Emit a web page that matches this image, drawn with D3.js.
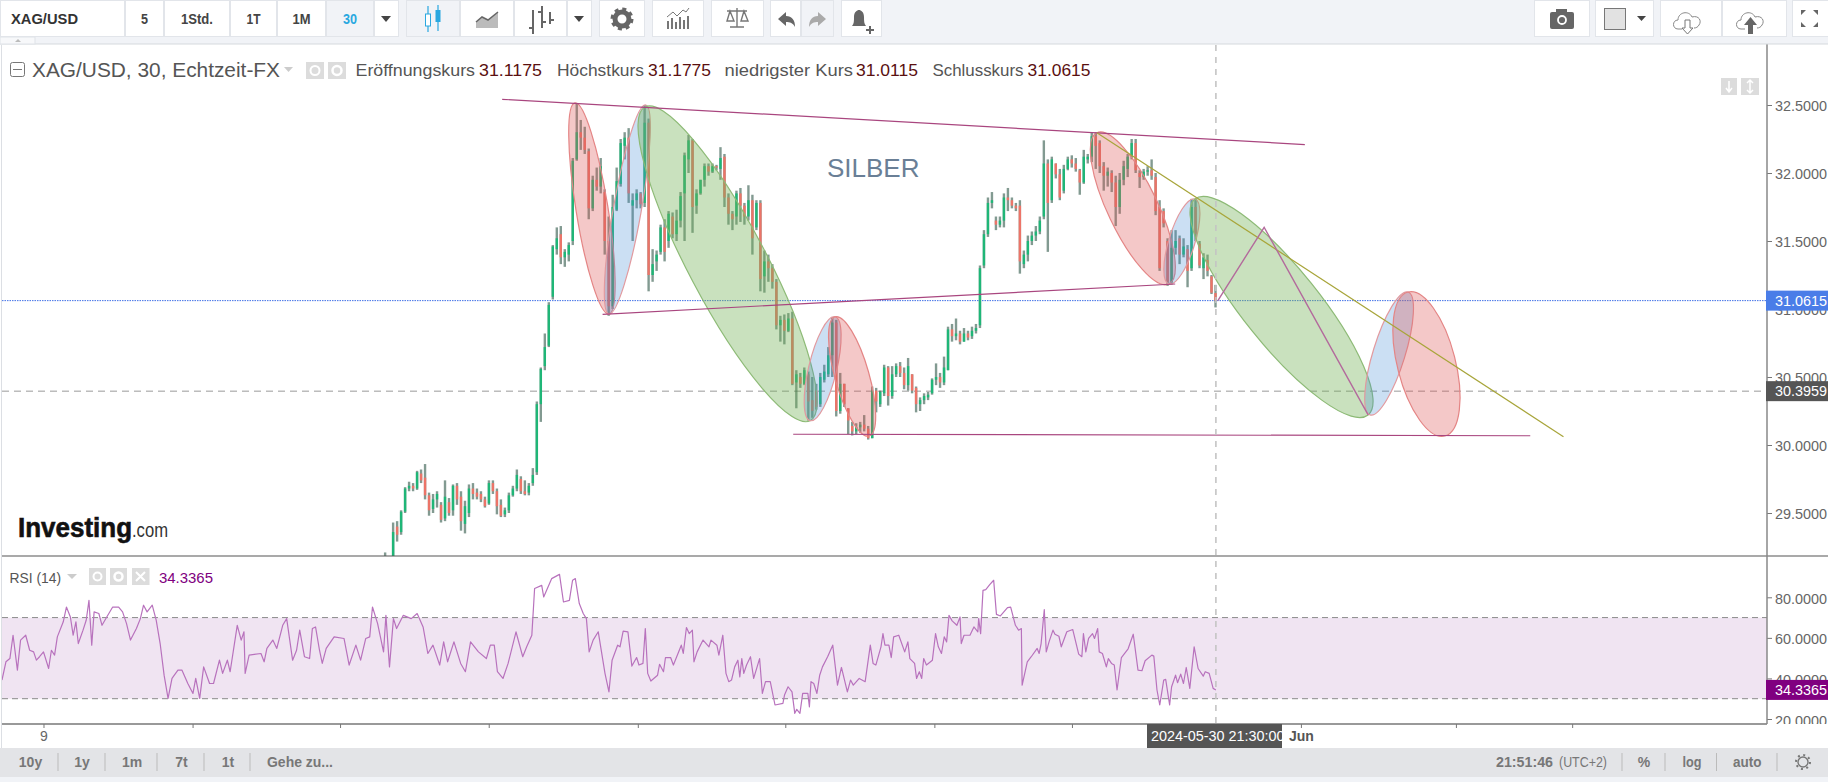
<!DOCTYPE html>
<html>
<head>
<meta charset="utf-8">
<title>XAG/USD</title>
<script src="https://cdn.jsdelivr.net/npm/d3@7"></script>
<style>
html, body { margin: 0; padding: 0; background: #fff; overflow: hidden; }
svg { display: block; }
text { font-family: "Liberation Sans", Arial, sans-serif; }
</style>
</head>
<body>
<script>
//****************************** Data ******************************************
var priceTicks = [29.5, 30, 30.5, 31, 31.5, 32, 32.5];
var rsiTicks = [20, 40, 60, 80];
var timeTicks = [110, 487, 860, 1236, 1613, 1986, 2363, 2711, 3290, 3682, 3976];
var timeLabels = ["9", "", "", "", "", "", "", "", "Jun", "", ""];

var lastPrice = 31.0615;
var prevClose = 30.3959;
var lastRsi = 34.3365;

var opens = [29.10,29.18,29.12,29.40,29.36,29.51,29.68,29.70,29.68,29.79,29.76,29.63,29.53,29.60,29.56,29.46,29.58,29.52,29.70,29.62,29.42,29.50,29.68,29.65,29.64,29.60,29.57,29.72,29.66,29.56,29.49,29.52,29.63,29.68,29.75,29.66,29.65,29.72,29.80,30.30,30.58,30.73,31.09,31.44,31.55,31.38,31.40,31.50,32.10,32.30,32.26,32.16,31.74,31.95,31.90,31.86,31.50,31.02,31.73,31.92,32.20,32.26,31.76,31.80,31.85,31.78,32.37,31.25,31.35,31.42,31.60,31.50,31.68,31.55,31.65,31.85,32.10,32.24,31.76,31.85,31.95,32.05,32.01,32.05,32.03,32.12,31.82,31.70,31.68,31.85,31.76,31.68,31.80,31.60,31.78,31.24,31.35,31.30,31.20,30.88,30.92,30.84,30.93,30.46,30.50,30.45,30.52,30.33,30.40,30.30,30.48,30.52,30.66,30.90,30.25,30.45,30.27,30.14,30.10,30.13,30.15,30.12,30.05,30.40,30.30,30.38,30.57,30.36,30.52,30.58,30.53,30.44,30.52,30.42,30.30,30.33,30.35,30.38,30.48,30.50,30.46,30.55,30.85,30.80,30.82,30.76,30.82,30.80,30.84,30.88,31.32,31.55,31.78,31.65,31.62,31.65,31.82,31.80,31.76,31.76,31.33,31.40,31.50,31.54,31.57,31.68,32.07,31.80,32.07,31.99,31.87,32.03,32.10,32.07,32.02,31.93,32.10,32.12,32.27,32.22,32.05,31.98,32.00,31.93,31.75,31.95,32.03,32.12,32.22,32.00,31.97,32.01,32.02,31.97,31.75,31.72,31.50,31.20,31.45,31.52,31.40,31.44,31.30,31.75,31.48,31.30,31.36,31.24,31.1175];
var highs = [29.21,29.18,29.43,29.44,29.52,29.69,29.73,29.72,29.81,29.82,29.86,29.65,29.64,29.66,29.58,29.74,29.61,29.71,29.72,29.66,29.59,29.71,29.72,29.68,29.66,29.62,29.74,29.74,29.68,29.60,29.54,29.65,29.70,29.82,29.77,29.74,29.72,29.83,30.32,30.57,30.82,31.05,31.47,31.60,31.61,31.44,31.49,32.11,32.51,32.39,32.34,32.18,31.98,32.04,32.11,31.88,31.68,31.84,32.04,32.25,32.30,32.33,31.85,31.88,31.86,32.50,32.40,31.44,31.43,31.62,31.66,31.72,31.71,31.73,31.86,32.15,32.28,32.25,31.88,31.95,32.07,32.07,32.07,32.06,32.19,32.14,31.85,31.72,31.87,31.89,31.78,31.91,31.84,31.80,31.80,31.43,31.40,31.33,31.22,30.95,30.96,30.97,30.98,30.55,30.53,30.57,30.54,30.50,30.45,30.53,30.59,30.72,30.94,30.92,30.53,30.45,30.27,30.17,30.16,30.17,30.22,30.14,30.43,30.42,30.40,30.59,30.58,30.58,30.60,30.61,30.57,30.64,30.52,30.43,30.35,30.38,30.39,30.49,30.60,30.53,30.65,30.87,30.89,30.93,30.84,30.86,30.84,30.87,30.89,31.32,31.58,31.82,31.86,31.68,31.68,31.85,31.89,31.82,31.78,31.80,31.43,31.54,31.57,31.61,31.68,32.24,32.10,32.12,32.07,32.03,32.06,32.12,32.13,32.11,32.03,32.17,32.14,32.30,32.30,32.24,32.08,32.04,32.02,31.98,32.00,32.09,32.14,32.25,32.25,32.02,32.03,32.05,32.10,32.00,31.80,31.74,31.52,31.58,31.58,31.54,31.52,31.47,31.81,31.81,31.50,31.41,31.40,31.25,31.1775];
var lows = [29.05,29.08,29.10,29.29,29.34,29.50,29.66,29.66,29.67,29.72,29.60,29.48,29.50,29.54,29.43,29.44,29.48,29.48,29.56,29.37,29.35,29.47,29.60,29.60,29.58,29.54,29.56,29.64,29.49,29.47,29.47,29.50,29.62,29.66,29.64,29.63,29.63,29.70,29.78,30.17,30.55,30.72,31.07,31.40,31.33,31.31,31.35,31.47,32.09,32.17,32.14,31.66,31.72,31.87,31.85,31.40,30.95,31.00,31.72,31.90,32.10,31.78,31.50,31.74,31.74,31.75,31.13,31.20,31.28,31.40,31.35,31.45,31.52,31.50,31.60,31.50,32.00,31.56,31.70,31.84,31.90,31.98,32.00,32.02,31.95,31.75,31.62,31.58,31.62,31.64,31.62,31.65,31.40,31.58,31.13,31.12,31.20,31.15,30.85,30.76,30.74,30.83,30.44,30.27,30.42,30.44,30.18,30.20,30.26,30.28,30.46,30.50,30.50,30.21,30.23,30.28,30.08,30.07,30.08,30.09,30.10,30.04,30.05,30.24,30.28,30.36,30.29,30.34,30.50,30.50,30.41,30.40,30.38,30.24,30.25,30.30,30.33,30.37,30.44,30.42,30.44,30.55,30.76,30.77,30.74,30.76,30.77,30.78,30.82,30.86,31.30,31.53,31.74,31.58,31.60,31.60,31.72,31.74,31.72,31.26,31.30,31.35,31.47,31.50,31.55,31.66,31.42,31.78,31.96,31.80,31.85,32.02,32.04,32.01,31.84,31.92,32.07,32.08,32.03,32.00,31.87,31.90,31.86,31.61,31.70,31.91,31.97,32.10,32.00,31.89,31.95,31.98,31.95,31.69,31.28,31.60,31.17,31.18,31.40,31.33,31.38,31.16,31.28,31.50,31.30,31.22,31.24,31.11,31.0115];
var closes = [29.18,29.12,29.36,29.34,29.51,29.68,29.70,29.68,29.80,29.74,29.63,29.52,29.60,29.64,29.45,29.62,29.50,29.70,29.60,29.44,29.55,29.68,29.64,29.62,29.60,29.55,29.72,29.66,29.55,29.48,29.52,29.63,29.68,29.78,29.66,29.64,29.70,29.78,30.30,30.56,30.72,31.03,31.46,31.52,31.38,31.42,31.47,32.09,32.30,32.26,32.17,31.74,31.95,31.90,32.05,31.50,31.02,31.75,31.94,32.22,32.26,31.85,31.80,31.85,31.77,32.37,31.25,31.33,31.40,31.60,31.42,31.70,31.55,31.65,31.83,32.13,32.24,31.75,31.85,31.95,32.05,32.01,32.05,32.04,32.11,31.82,31.70,31.66,31.85,31.76,31.68,31.80,31.52,31.78,31.22,31.35,31.30,31.20,30.88,30.92,30.84,30.93,30.45,30.52,30.45,30.55,30.32,30.25,30.28,30.50,30.54,30.66,30.90,30.25,30.45,30.30,30.18,30.10,30.13,30.15,30.12,30.05,30.40,30.32,30.39,30.57,30.36,30.52,30.58,30.53,30.44,30.58,30.40,30.30,30.33,30.36,30.37,30.48,30.50,30.46,30.57,30.85,30.80,30.82,30.76,30.82,30.79,30.84,30.86,31.30,31.55,31.78,31.80,31.62,31.65,31.82,31.80,31.76,31.74,31.35,31.40,31.50,31.54,31.57,31.65,32.07,31.78,32.10,31.99,31.82,32.03,32.10,32.07,32.03,31.93,32.12,32.12,32.27,32.20,32.05,31.98,32.01,31.93,31.75,31.95,32.05,32.12,32.22,32.02,31.97,32.01,32.02,31.98,31.72,31.30,31.63,31.20,31.45,31.50,31.40,31.46,31.28,31.75,31.55,31.32,31.38,31.28,31.12,31.0615];

var rsiPos = [5,15,25,33,44,52,65,75,85,92,100,110,123,130,138,145,160,168,178,185,192,198,210,218,225,232,238,250,258,270,285,300,310,320,330,345,355,363,372,385,395,405,415,425,435,450,460,475,488,495,505,515,530,540,555,563,575,582,600,610,617,620,630,660,668,675,690,700,715,725,740,750,758,770,783,790,798,808,815,825,845,870,883,900,912,925,935,942,955,970,976,985,995,1003,1020,1040,1055,1070,1082,1095,1112,1122,1132,1148,1165,1177,1190,1210,1230,1240,1250,1258,1272,1285,1305,1322,1332,1345,1352,1370,1375,1395,1415,1425,1440,1448,1455,1465,1475,1483,1490,1500,1513,1530,1540,1548,1562,
1568,1576,1588,1598,1610,1616,1626,1632,1638,1646,1663,1668,1678,1683,1696,1703,1723,1728,1736,1743,1751,1755,1763,1778,1793,1798,1813,1818,1828,1836,1843,1850,1858,1866,1871,1876,1881,1888,1898,1906,1921,1928,1936,1948,1960,1980,1984,1993,2003,2010,2015,2023,2030,2043,2047,2051,2058,2066,2073,2080,2093,2106,2118,2128,2143,2151,2158,2173,2188,2201,2208,2215,2228,2233,2238,2248,2254,2260,2273,2288,2296,2301,2313,2318,2325,2331,2336,2343,2358,2366,2373,2381,2388,2394,2400,2408,2420,2428,2431,2438,2453,2463,2473,2475,2480,2486,2493,2503,2513,2520,2530,2548,2556,2568,2576,2583,2585,2598,2608,2623,2628,2633,2641,2646,2653,2663,2668,2678,2684,2698,2713,2728,2736,2740,2746,2753,2763,2768,2776,2780,2788,2798,2803,2811,2818,2825,2836,2853,2866,2878,2888,2896,2913,2918,2926,2933,2943,2948,2958,2963,2973,2978,2986,2993,3000,3009,3020,3030,3043,3048,3058,3068,3075];
var rsiVal = [39.2,48.2,49.8,61.3,44.1,58.9,61.3,53.9,53.1,49,50.7,53.1,44.9,53.9,51.5,60.5,67.9,75.2,70.3,61.3,67.9,57.2,63.8,68.7,78.5,56.4,72.8,72,66.2,70.3,75.2,75.2,72.8,67,58.9,64.6,69.5,76.1,72.8,76.1,68.7,57.2,41.6,30.2,40,44.1,44.1,37.5,32.6,40,30.2,45.7,37.5,37.5,49,42.5,49,43.3,66.2,58.9,63,42.5,51.5,52.3,48.2,54.8,58.9,54.8,66.2,69.5,49,53.9,63.8,50.7,49.8,64.6,65.4,53.9,47.4,54.8,60.5,59.7,46.6,56.4,49,59.7,60.5,75.2,67,53.1,71.1,45.7,69.5,64.6,71.1,69.5,72,65.4,52.3,56.4,46.6,58,48.2,58,47.4,43.3,58,53.1,49.8,56.4,56.4,43.3,40,47.4,63,50.7,55.6,61.3,84.3,85.9,80.2,89.2,91.3,77.7,78.5,88.4,89.2,76.9,72,69.5,53.1,58.9,63,42.5,33.4,49,56.4,
55.6,63.3,63,46.1,50.3,46.6,47.4,64.6,42.5,38.7,41.6,47,43.3,50.3,50.3,46.6,56.4,52.3,65.1,62.1,63.8,48.2,53.1,58.9,55.6,58.9,56.4,51.5,61.3,42.5,38.4,39.2,45.7,49,40.8,49.8,42.5,46.6,50.7,40,49.8,32.6,38.4,38.4,26.9,27.7,31.8,35.9,33.4,22.8,24.8,22.8,32.6,32.6,26,38.4,37.5,32.6,41.6,45.7,50.7,56.4,36.7,45.4,33.4,39.2,36.7,40,38.4,56.4,47.4,46.6,55.6,62.1,56.4,56.4,50.3,60.5,61.3,53.1,58,49.8,47.4,40,43.3,40,49.8,46.6,49,62.1,55.6,52.3,60.5,58,71.1,68.4,66.2,70.3,57.2,61.3,61.3,65.4,63,69.5,62.1,83.4,83.8,86.2,88.4,71.6,70.8,74.9,75.2,66.2,63.8,64.6,36.7,48.2,50.7,54.8,52.3,57.2,73.9,53.1,58,63.8,61.8,60.8,55.6,63,64.1,52,50.7,62.1,53.1,59.7,62.1,59.7,64.6,53.1,52.3,45.7,49.8,47.4,46.6,34.3,50.3,54.6,61.8,44.1,43.8,48.7,51.5,51,34.3,26.9,39.2,39.5,26.9,35.9,41.6,37.9,42.1,37.5,45.4,35.1,55.6,44.9,41.1,43.3,42.5,35.1,34.3365];

// drawings on the chart: [time slot, price]
var ellipseFrom = [[1454,32.515],[1633,32.50],[1631,32.485],[2112,30.943],[2112,30.943],[2774,32.296],[3022,31.809],[3022,31.809],[3561,31.125],[3561,31.125]];
var ellipseTo = [[1540,30.963],[1540,30.963],[2049,30.179],[2049,30.179],[2198,30.066],[2956,31.184],[2956,31.184],[3460,30.221],[3465,30.221],[3654,30.066]];
var ellipseKind = ["red","blue","green","blue","red","red","blue","green","blue","red"];
var ellipseHalf = [16,14,39,14,17,25,13,38,16,29];

var purpleLines = [
  [[1270,32.542],[3300,32.209]],
  [[1524,30.961],[2972,31.184]],
  [[2006,30.079],[3870,30.068]]
];
var oliveLine = [[2774,32.296],[3954,30.061]];
var zigzag = [[3080,31.0615],[3197,31.601],[3460,30.221]];

var zoomButtons = [["10y",30.5],["1y",82],["1m",132],["7t",181.5],["1t",228]];

//****************************** Scales ****************************************
var width = 1828, height = 782;
var axisX = 1767, leftX = 2;

var xSlot = d3.scaleLinear().domain([0, 4623]).range([0, width]);
var xBar = d3.scaleLinear().domain([0, opens.length - 1]).range([xSlot(974), xSlot(3074)]);
var yPrice = d3.scaleLinear().domain([30, 32.5]).range([445, 105]);
var yRsi = d3.scaleLinear().domain([20, 80]).range([719, 597.3]);

var svg = d3.select("body").append("svg")
  .attr("width", width)
  .attr("height", height);

var defs = svg.append("defs");
defs.append("clipPath").attr("id", "mainClip").append("rect")
  .attr("x", leftX).attr("y", 45).attr("width", axisX - leftX).attr("height", 511);
defs.append("clipPath").attr("id", "rsiClip").append("rect")
  .attr("x", leftX).attr("y", 557).attr("width", axisX - leftX).attr("height", 167);
defs.append("clipPath").attr("id", "rsiAxisClip").append("rect")
  .attr("x", axisX).attr("y", 557).attr("width", 61).attr("height", 167);
defs.append("clipPath").attr("id", "badgeClip").append("rect")
  .attr("x", 1147).attr("y", 724).attr("width", 135).attr("height", 24);

function label(parent, txt, x, y, size, color, bold, anchor, len) {
  var t = parent.append("text")
    .attr("x", x).attr("y", y)
    .attr("font-size", size + "px")
    .attr("fill", color)
    .attr("text-anchor", anchor || "start")
    .attr("font-weight", bold ? "bold" : "normal")
    .text(txt);
  if (len) t.attr("textLength", len).attr("lengthAdjust", "spacingAndGlyphs");
  return t;
}

//****************************** Main chart ************************************
var main = svg.append("g").attr("clip-path", "url(#mainClip)");

// last price and previous close lines
main.append("line")
  .attr("x1", leftX).attr("x2", axisX)
  .attr("y1", yPrice(prevClose)).attr("y2", yPrice(prevClose))
  .attr("stroke", "#999").attr("stroke-dasharray", "7,5");
main.append("line")
  .attr("x1", leftX).attr("x2", axisX)
  .attr("y1", yPrice(lastPrice)).attr("y2", yPrice(lastPrice))
  .attr("stroke", "#3f6fe6").attr("stroke-dasharray", "1.5,1");

// candles
var barIdx = d3.range(opens.length);
main.selectAll(".wick").data(barIdx).enter().append("line")
  .attr("class", "wick")
  .attr("x1", function (i) { return xBar(i); })
  .attr("x2", function (i) { return xBar(i); })
  .attr("y1", function (i) { return yPrice(highs[i]); })
  .attr("y2", function (i) { return yPrice(lows[i]); })
  .attr("stroke", "#2f5647")
  .attr("stroke-opacity", 0.6)
  .attr("stroke-width", 2.4);
main.selectAll(".body").data(barIdx).enter().append("rect")
  .attr("class", "body")
  .attr("x", function (i) { return xBar(i) - 1.2; })
  .attr("width", 2.4)
  .attr("y", function (i) { return yPrice(Math.max(opens[i], closes[i])); })
  .attr("height", function (i) { return Math.max(1, Math.abs(yPrice(opens[i]) - yPrice(closes[i]))); })
  .attr("fill", function (i) { return closes[i] >= opens[i] ? "#1fb677" : "#ec7468"; });

// drawn ellipses
var ellipseFill = { red: "rgba(222,84,84,0.32)", blue: "rgba(70,140,212,0.28)", green: "rgba(112,176,84,0.38)" };
var ellipseEdge = { red: "#e48585", blue: "#e29a9f", green: "#8dba76" };
main.selectAll(".shape").data(ellipseKind).enter().append("ellipse")
  .attr("class", "shape")
  .each(function (kind, i) {
    var ax = xSlot(ellipseFrom[i][0]), ay = yPrice(ellipseFrom[i][1]);
    var bx = xSlot(ellipseTo[i][0]), by = yPrice(ellipseTo[i][1]);
    var len = Math.sqrt((bx - ax) * (bx - ax) + (by - ay) * (by - ay));
    var deg = Math.atan2(by - ay, bx - ax) * 180 / Math.PI;
    d3.select(this)
      .attr("cx", 0).attr("cy", 0)
      .attr("rx", len / 2).attr("ry", ellipseHalf[i])
      .attr("transform", "translate(" + (ax + bx) / 2 + "," + (ay + by) / 2 + ") rotate(" + deg + ")");
  })
  .attr("fill", function (k) { return ellipseFill[k]; })
  .attr("stroke", function (k) { return ellipseEdge[k]; })
  .attr("stroke-width", 1.2);

// drawn lines
var drawLine = d3.line()
  .x(function (d) { return xSlot(d[0]); })
  .y(function (d) { return yPrice(d[1]); });
main.selectAll(".trend").data(purpleLines).enter().append("path")
  .attr("class", "trend")
  .attr("d", drawLine)
  .attr("fill", "none").attr("stroke", "#a9467f").attr("stroke-width", 1.2);
main.append("path").attr("d", drawLine(oliveLine))
  .attr("fill", "none").attr("stroke", "#a8a53a").attr("stroke-width", 1.2);
main.append("path").attr("d", drawLine(zigzag))
  .attr("fill", "none").attr("stroke", "#b36a9c").attr("stroke-width", 1.4);

label(svg, "SILBER", 827, 177, 26, "#6a7f96");

// logo
var logo = label(svg, "Investing", 18, 537, 27, "#111", true, "start", 114);
logo.attr("stroke", "#111").attr("stroke-width", 0.6);
label(svg, ".com", 132, 537, 20, "#333", false, "start", 36);

//****************************** RSI *******************************************
var rsiPane = svg.append("g").attr("clip-path", "url(#rsiClip)");
rsiPane.append("rect")
  .attr("x", leftX).attr("width", axisX - leftX)
  .attr("y", yRsi(70)).attr("height", yRsi(30) - yRsi(70))
  .attr("fill", "#f0e4f2");
[70, 30].forEach(function (lvl) {
  rsiPane.append("line")
    .attr("x1", leftX).attr("x2", axisX)
    .attr("y1", yRsi(lvl)).attr("y2", yRsi(lvl))
    .attr("stroke", "#8a8a8a").attr("stroke-dasharray", "6,4");
});
var rsiLine = d3.line()
  .x(function (d, i) { return xSlot(rsiPos[i]); })
  .y(function (d) { return yRsi(d); });
rsiPane.append("path").attr("d", rsiLine(rsiVal))
  .attr("fill", "none").attr("stroke", "#b872bd").attr("stroke-width", 1.2).attr("stroke-linejoin", "round");

//****************************** Axes ******************************************
var priceAxis = d3.axisRight(yPrice)
  .tickValues(priceTicks).tickSize(5).tickPadding(3)
  .tickFormat(d3.format(".4f"));
var priceG = svg.append("g").attr("transform", "translate(" + axisX + ",0)").call(priceAxis);

var rsiAxis = d3.axisRight(yRsi)
  .tickValues(rsiTicks).tickSize(5).tickPadding(3)
  .tickFormat(d3.format(".4f"));
var rsiG = svg.append("g")
  .attr("clip-path", "url(#rsiAxisClip)")
  .append("g").attr("transform", "translate(" + axisX + ",0)").call(rsiAxis);

var timeAxis = d3.axisBottom(xSlot)
  .tickValues(timeTicks).tickSize(4).tickPadding(3)
  .tickFormat(function (d, i) { return timeLabels[i]; });
var timeG = svg.append("g").attr("transform", "translate(0,724)").call(timeAxis);

[priceG, rsiG, timeG].forEach(function (g) {
  g.select(".domain").remove();
  g.selectAll(".tick line").attr("stroke", "#777");
  g.selectAll(".tick text")
    .attr("font-family", "Liberation Sans, Arial, sans-serif")
    .attr("font-size", "14.4px")
    .attr("fill", "#666");
});
priceG.selectAll(".tick text").attr("dy", "0.4em");
rsiG.selectAll(".tick text").attr("dy", "0.42em");
timeG.selectAll(".tick text")
  .attr("font-size", "14px")
  .attr("font-weight", function (d, i) { return timeLabels[i] === "Jun" ? "bold" : "normal"; })
  .attr("fill", function (d, i) { return timeLabels[i] === "Jun" ? "#555" : "#666"; });

// pane frame
svg.append("line").attr("x1", 1.5).attr("x2", 1.5).attr("y1", 45).attr("y2", 748).attr("stroke", "#dcdfe4");
svg.append("line").attr("x1", leftX).attr("x2", width).attr("y1", 556).attr("y2", 556).attr("stroke", "#555").attr("stroke-width", 1.2);
svg.append("line").attr("x1", leftX).attr("x2", axisX).attr("y1", 724).attr("y2", 724).attr("stroke", "#777").attr("stroke-width", 1.4);
svg.append("line").attr("x1", axisX).attr("x2", axisX).attr("y1", 44).attr("y2", 724).attr("stroke", "#888").attr("stroke-width", 1.5);

// crosshair
svg.append("line")
  .attr("x1", xSlot(3075)).attr("x2", xSlot(3075))
  .attr("y1", 45).attr("y2", 728)
  .attr("stroke", "#c4c4c4").attr("stroke-width", 1.6).attr("stroke-dasharray", "6,6");

// price badges
function badge(y, txt, fill) {
  svg.append("rect")
    .attr("x", axisX - 1).attr("y", y - 10).attr("width", width - axisX + 1).attr("height", 20)
    .attr("fill", fill);
  label(svg, txt, 1775, y + 5.3, 14.4, "#fff");
}
badge(yPrice(lastPrice), d3.format(".4f")(lastPrice), "#4a7de8");
badge(yPrice(prevClose), d3.format(".4f")(prevClose), "#555555");
badge(yRsi(lastRsi), d3.format(".4f")(lastRsi), "#800080");

// crosshair date
svg.append("rect").attr("x", 1147).attr("y", 724).attr("width", 135).attr("height", 24).attr("fill", "#555");
label(svg.append("g").attr("clip-path", "url(#badgeClip)"), "2024-05-30 21:30:00", 1151, 741, 14.4, "#fff");

//****************************** Header texts **********************************
svg.append("rect").attr("x", 10.5).attr("y", 62.5).attr("width", 14).attr("height", 14).attr("rx", 2).attr("fill", "#fff").attr("stroke", "#777");
svg.append("line").attr("x1", 13).attr("x2", 22).attr("y1", 69.5).attr("y2", 69.5).attr("stroke", "#777");
label(svg, "XAG/USD, 30, Echtzeit-FX", 32, 76.5, 20.5, "#555", false, "start", 248);
svg.append("path").attr("d", "M284,67h9l-4.5,5z").attr("fill", "#ccc");

function greyBox(x, y, w, h) {
  svg.append("rect").attr("x", x).attr("y", y).attr("width", w).attr("height", h).attr("fill", "#dcdcdc");
}
greyBox(306, 62, 18, 17);
svg.append("circle").attr("cx", 315).attr("cy", 70.5).attr("r", 4.5).attr("fill", "none").attr("stroke", "#fff").attr("stroke-width", 2);
greyBox(328, 62, 18, 17);
svg.append("circle").attr("cx", 337).attr("cy", 70.5).attr("r", 4.5).attr("fill", "none").attr("stroke", "#fff").attr("stroke-width", 2.5);

var legendLabels = [["Eröffnungskurs", 355.5, 119.5], ["Höchstkurs", 557, 87], ["niedrigster Kurs", 724.5, 128.5], ["Schlusskurs", 932.5, 91]];
var legendValues = [["31.1175", 479, 63], ["31.1775", 648, 63], ["31.0115", 856, 62], ["31.0615", 1027.5, 63]];
legendLabels.forEach(function (d) { label(svg, d[0], d[1], 76, 16.5, "#555", false, "start", d[2]); });
legendValues.forEach(function (d) { label(svg, d[0], d[1], 76, 16.5, "#5a1010", false, "start", d[2]); });

greyBox(1721, 78, 16, 17);
svg.append("path").attr("d", "M1729,81v10m-3,-3l3,4l3,-4").attr("fill", "none").attr("stroke", "#fff").attr("stroke-width", 1.5);
greyBox(1741, 78, 18, 17);
svg.append("path").attr("d", "M1750,80v13m-3,-10l3,-3l3,3m-6,7l3,3l3,-3").attr("fill", "none").attr("stroke", "#fff").attr("stroke-width", 1.5);

// RSI header
label(svg, "RSI (14)", 9.5, 582.5, 15, "#555", false, "start", 51.5);
svg.append("path").attr("d", "M67,574h10l-5,5z").attr("fill", "#ccc");
greyBox(89, 568, 17, 17);
svg.append("circle").attr("cx", 97.5).attr("cy", 576.5).attr("r", 4).attr("fill", "none").attr("stroke", "#fff").attr("stroke-width", 2);
greyBox(110, 568, 17, 17);
svg.append("circle").attr("cx", 118.5).attr("cy", 576.5).attr("r", 4).attr("fill", "none").attr("stroke", "#fff").attr("stroke-width", 2.5);
greyBox(132, 568, 17.5, 17);
svg.append("path").attr("d", "M136,572l9,9m0,-9l-9,9").attr("stroke", "#fff").attr("stroke-width", 2);
label(svg, d3.format(".4f")(lastRsi), 159, 582.5, 15, "#800080", false, "start", 54);

//****************************** Toolbar ***************************************
svg.append("rect").attr("width", width).attr("height", 44).attr("fill", "#f1f3f7");
svg.append("line").attr("x1", 0).attr("x2", width).attr("y1", 44).attr("y2", 44).attr("stroke", "#d5d9de").attr("stroke-width", 1.2);
svg.append("rect").attr("x", 0).attr("y", 37).attr("width", 35).attr("height", 7).attr("fill", "#f7f8fa").attr("stroke", "#dfe3e8");
svg.append("path").attr("d", "M15,42h6l-3,-3z").attr("fill", "#bbb");

function cell(x0, x1, fill) {
  svg.append("rect")
    .attr("x", x0 + 0.5).attr("y", 0.5).attr("width", x1 - x0 - 1).attr("height", 36)
    .attr("fill", fill || "#fff").attr("stroke", "#e2e5ea");
}
var tfCells = [[125, 164, "5", 7], [164, 230, "1Std.", 32], [230, 277, "1T", 14], [277, 326, "1M", 18]];
cell(0, 125);
label(svg, "XAG/USD", 11, 24, 15, "#333", true, "start", 67);
tfCells.forEach(function (c) {
  cell(c[0], c[1]);
  label(svg, c[2], (c[0] + c[1]) / 2, 24, 15, "#444", true, "middle", c[3]);
});
cell(326, 374, "#f1f3f7");
label(svg, "30", 350, 24, 15, "#2aa8e0", true, "middle", 14);
cell(374, 399);
svg.append("path").attr("d", "M381,16h10l-5,6z").attr("fill", "#444");

cell(406, 460, "#f1f3f7");
svg.append("path").attr("d", "M428,6v26M438,5v26").attr("stroke", "#2aa8e0").attr("stroke-width", 1.2);
svg.append("rect").attr("x", 425.5).attr("y", 14).attr("width", 5).attr("height", 12).attr("fill", "#fff").attr("stroke", "#2aa8e0");
svg.append("rect").attr("x", 435.5).attr("y", 10).attr("width", 5).attr("height", 12).attr("fill", "#2aa8e0");
cell(460, 514);
svg.append("path").attr("d", "M476,28v-6l6,-5l6,3l10,-8v16z").attr("fill", "#bbb");
svg.append("path").attr("d", "M476,22l6,-5l6,3l10,-8").attr("fill", "none").attr("stroke", "#666").attr("stroke-width", 1.5);
cell(514, 567);
svg.append("path").attr("d", "M533,10v24M533,28h-4M542,6v22M542,12h-4M542,22h4M550,12v12M550,20h4").attr("fill", "none").attr("stroke", "#666").attr("stroke-width", 2);
cell(567, 592);
svg.append("path").attr("d", "M574,16h10l-5,6z").attr("fill", "#444");

cell(599, 645);
svg.append("circle").attr("cx", 622).attr("cy", 19).attr("r", 7).attr("fill", "none").attr("stroke", "#666").attr("stroke-width", 5);
svg.append("circle").attr("cx", 622).attr("cy", 19).attr("r", 10).attr("fill", "none").attr("stroke", "#666").attr("stroke-width", 3).attr("stroke-dasharray", "4,3.85");
cell(652, 704);
svg.append("path").attr("d", "M668,29v-8M672,29v-11M676,29v-7M680,29v-12M684,29v-9M688,29v-13").attr("stroke", "#777").attr("stroke-width", 2);
svg.append("path").attr("d", "M667,17l6,-5l4,4l6,-6l3,2l3,-4").attr("fill", "none").attr("stroke", "#777");
cell(711, 764);
svg.append("path").attr("d", "M737,8v19M730,27h14M727,11h20M730,11l-3,10h7zM744,11l-3,10h7z").attr("fill", "none").attr("stroke", "#777").attr("stroke-width", 1.4);
cell(770, 801);
svg.append("path").attr("d", "M778,19l8,-7v4c6,0 9,4 9,11c-2,-4 -5,-5 -9,-5v4z").attr("fill", "#666");
cell(801, 834, "#f1f3f7");
svg.append("path").attr("d", "M826,19l-8,-7v4c-6,0 -9,4 -9,11c2,-4 5,-5 9,-5v4z").attr("fill", "#aaa");
cell(841, 882);
svg.append("path").attr("d", "M852,26c2,-2 2,-5 2,-9c0,-5 3,-7 5,-7s5,2 5,7c0,4 0,7 2,9z").attr("fill", "#666");
svg.append("path").attr("d", "M866,30h8M870,26v8").attr("stroke", "#666").attr("stroke-width", 2);

cell(1534, 1590);
svg.append("rect").attr("x", 1550).attr("y", 12).attr("width", 24).attr("height", 17).attr("rx", 2).attr("fill", "#666");
svg.append("rect").attr("x", 1556).attr("y", 9).attr("width", 11).attr("height", 5).attr("fill", "#666");
svg.append("circle").attr("cx", 1562).attr("cy", 20).attr("r", 4).attr("fill", "#666").attr("stroke", "#fff").attr("stroke-width", 1.8);
cell(1595, 1654);
svg.append("rect").attr("x", 1604.5).attr("y", 8.5).attr("width", 21).attr("height", 21).attr("fill", "#e2e2e2").attr("stroke", "#777");
svg.append("path").attr("d", "M1637,16h9l-4.5,5z").attr("fill", "#444");
cell(1660, 1722);
svg.append("path").attr("d", "M1682,29h-4c-6,0 -6,-9 0,-9c0,-8 11,-10 14,-3c7,-2 10,4 7,8c-1,2 -3,3 -5,3").attr("fill", "none").attr("stroke", "#888");
svg.append("path").attr("d", "M1685,20h5v8h3l-5.5,6l-5.5,-6h3z").attr("fill", "#fff").attr("stroke", "#777");
cell(1722, 1787);
svg.append("path").attr("d", "M1745,29h-4c-6,0 -6,-9 0,-9c0,-8 11,-10 14,-3c7,-2 10,4 7,8c-1,2 -3,3 -5,3").attr("fill", "none").attr("stroke", "#888");
svg.append("path").attr("d", "M1748,34v-9h-4l6.5,-8l6.5,8h-4v9z").attr("fill", "#666");
cell(1792, 1829);
svg.append("path").attr("d", "M1801,10l5,0l-5,5zM1818,10l-5,0l5,5zM1801,27l5,0l-5,-5zM1818,27l-5,0l5,-5z").attr("fill", "#666");

//****************************** Bottom bar ************************************
svg.append("rect").attr("y", 748).attr("width", width).attr("height", 29).attr("fill", "#e3e4e7");
svg.append("rect").attr("y", 777).attr("width", width).attr("height", 5).attr("fill", "#f1f3f7");

zoomButtons.forEach(function (b) {
  label(svg, b[0], b[1], 767, 14, "#777", true, "middle");
});
label(svg, "Gehe zu...", 267, 767, 14, "#777", true, "start", 66);
[58, 105, 157, 204, 250, 1622, 1665, 1716.5, 1777].forEach(function (x) {
  svg.append("line").attr("x1", x).attr("x2", x).attr("y1", 753).attr("y2", 771).attr("stroke", "#bbb");
});
label(svg, "21:51:46", 1496, 767, 14, "#777", true, "start", 57);
label(svg, "(UTC+2)", 1559, 767, 14, "#777", false, "start", 48);
label(svg, "%", 1644, 767, 14, "#777", true, "middle");
label(svg, "log", 1682.5, 767, 14, "#777", true, "start", 19);
label(svg, "auto", 1733, 767, 14, "#777", true, "start", 28.5);
svg.append("circle").attr("cx", 1803).attr("cy", 762).attr("r", 5).attr("fill", "none").attr("stroke", "#777").attr("stroke-width", 1.4);
svg.append("circle").attr("cx", 1803).attr("cy", 762).attr("r", 7).attr("fill", "none").attr("stroke", "#777").attr("stroke-width", 2).attr("stroke-dasharray", "2,3.5");
</script>
</body>
</html>
